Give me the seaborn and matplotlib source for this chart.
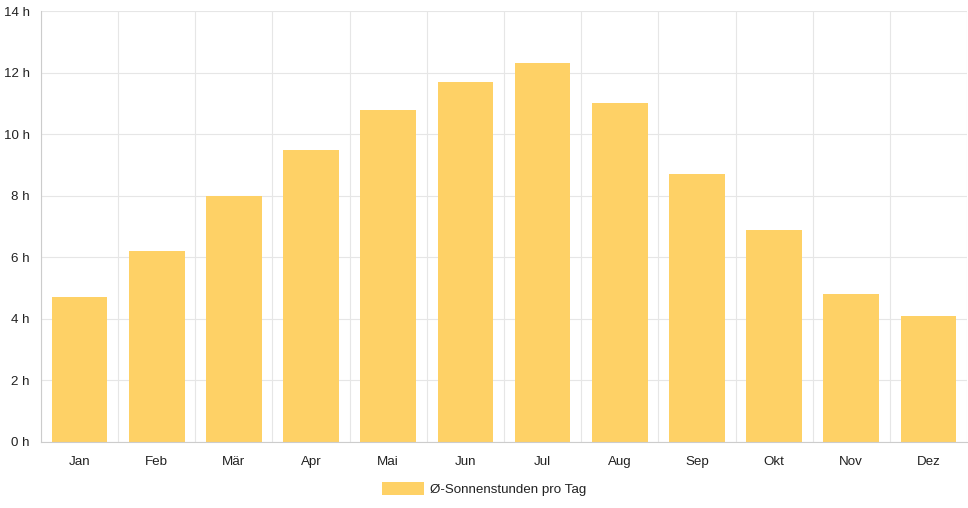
import matplotlib
matplotlib.use('Agg')
import matplotlib.pyplot as plt
from matplotlib.patches import Patch
import numpy as np
import pandas as pd
import seaborn as sns

months = ['Jan', 'Feb', 'Mär', 'Apr', 'Mai', 'Jun', 'Jul', 'Aug', 'Sep', 'Okt', 'Nov', 'Dez']
hours = [4.7, 6.2, 8.0, 9.5, 10.8, 11.7, 12.3, 11.0, 8.7, 6.9, 4.8, 4.1]
series_label = 'Ø-Sonnenstunden pro Tag'
bar_color = '#fed166'
grid_color = '#e6e6e6'

sns.set_style('white')
plt.rcParams['font.family'] = ['Liberation Sans', 'DejaVu Sans']

df = pd.DataFrame({'month': months, 'hours': hours})

fig = plt.figure(figsize=(9.68, 5.08), dpi=100)
ax = fig.add_axes([41 / 968, 66 / 508, 926 / 968, 431 / 508])

sns.barplot(data=df, x='month', y='hours', color=bar_color, width=0.72,
            saturation=1, ax=ax, zorder=2)
for p in ax.patches:
    p.set_edgecolor('none')

ax.set_xlim(-0.5, len(months) - 0.5)
ax.set_ylim(0, 14)
ax.set_yticks(range(0, 15, 2))
ax.set_yticklabels([f'{v} h' for v in range(0, 15, 2)])
ax.set_xlabel('')
ax.set_ylabel('')

ax.set_xticks(np.arange(-0.5, len(months), 1), minor=True)
ax.grid(True, which='minor', axis='x', color=grid_color, lw=0.8, zorder=0)
ax.grid(True, which='major', axis='y', color=grid_color, lw=0.8, zorder=0)
ax.tick_params(axis='x', which='major', length=0, pad=10, labelsize=9.6, colors='#222222')
ax.tick_params(axis='x', which='minor', length=8, color=grid_color, width=0.8)
ax.tick_params(axis='y', length=6, color=grid_color, width=0.8, pad=2, labelsize=9.6,
               colors='#222222')
for side in ['top', 'right']:
    ax.spines[side].set_visible(False)
for side in ['left', 'bottom']:
    ax.spines[side].set_color('#cccccc')
    ax.spines[side].set_linewidth(0.8)

handle = Patch(facecolor=bar_color, edgecolor='none', label=series_label)
fig.legend(handles=[handle], loc='lower center', bbox_to_anchor=(0.5, 0.0),
           frameon=False, fontsize=9.6, handlelength=3.1, handleheight=1.1,
           handletextpad=0.45, labelcolor='#222222')

fig.savefig('out.png', dpi=100)
